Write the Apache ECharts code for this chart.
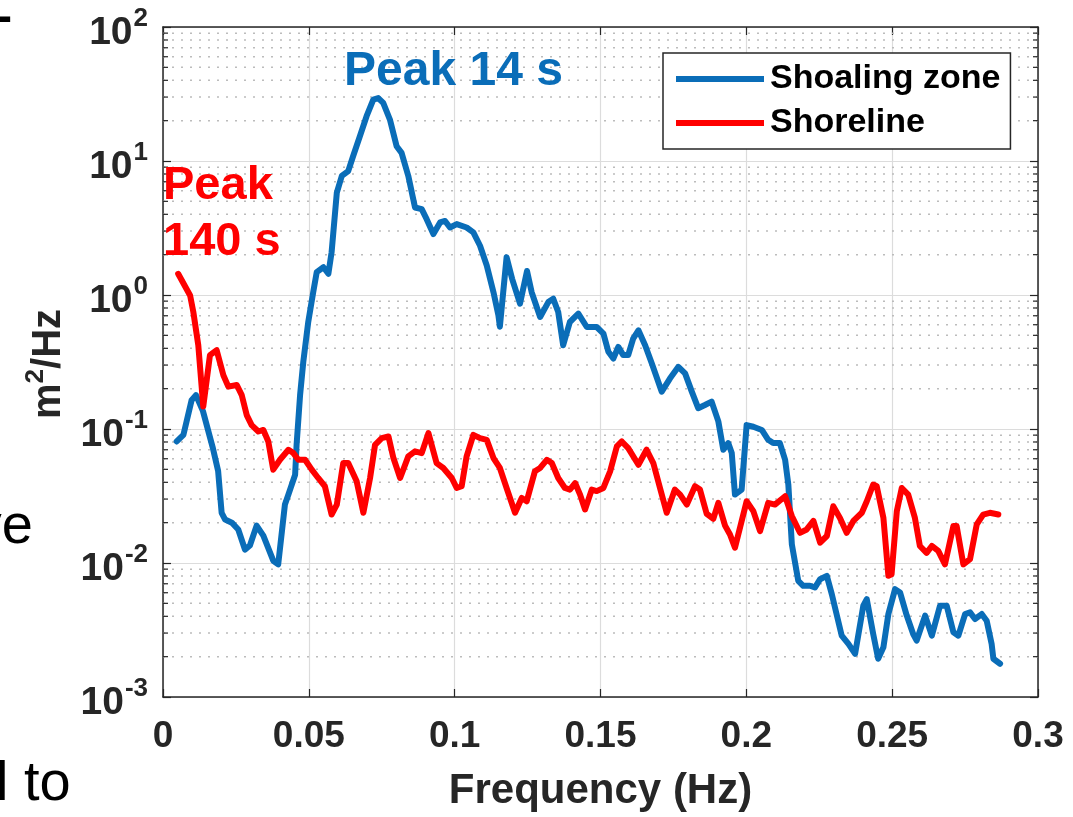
<!DOCTYPE html>
<html>
<head>
<meta charset="utf-8">
<script src="https://cdn.jsdelivr.net/npm/echarts/dist/echarts.min.js"></script>
<style>
html,body{margin:0;padding:0;background:#fff;}
#chart{width:1073px;height:817px;}
</style>
</head>
<body>
<div id="chart"></div>
<script>
// ---------------- data ----------------
const xTickValues = [0, 0.05, 0.1, 0.15, 0.2, 0.25, 0.3];
const yDecades = [0.001, 0.01, 0.1, 1, 10, 100];
const minorMultipliers = [2, 3, 4, 5, 6, 7, 8, 9];
const seriesNames = ['Shoaling zone', 'Shoreline'];

const shoalFreq = [0.0047,0.0070,0.0098,0.0113,0.0137,0.0171,0.0189,0.0201,0.0213,0.0236,0.0258,0.0281,0.0298,0.0321,0.0344,0.0378,0.0395,0.0418,0.0430,0.0453,0.0458,0.0470,0.0481,0.0498,0.0515,0.0527,0.0550,0.0567,0.0578,0.0596,0.0613,0.0635,0.0652,0.0675,0.0698,0.0721,0.0738,0.0755,0.0778,0.0801,0.0818,0.0841,0.0864,0.0887,0.0904,0.0927,0.0950,0.0967,0.0984,0.1007,0.1041,0.1064,0.1087,0.1110,0.1133,0.1150,0.1155,0.1178,0.1197,0.1224,0.1248,0.1264,0.1293,0.1321,0.1338,0.1355,0.1372,0.1395,0.1424,0.1453,0.1487,0.1510,0.1527,0.1544,0.1561,0.1578,0.1595,0.1612,0.1630,0.1653,0.1676,0.1710,0.1738,0.1767,0.1790,0.1813,0.1835,0.1858,0.1881,0.1904,0.1921,0.1938,0.1950,0.1961,0.1984,0.2001,0.2024,0.2053,0.2075,0.2092,0.2115,0.2133,0.2144,0.2156,0.2178,0.2195,0.2218,0.2235,0.2253,0.2276,0.2293,0.2327,0.2350,0.2373,0.2401,0.2413,0.2435,0.2452,0.2470,0.2487,0.2510,0.2527,0.2550,0.2572,0.2584,0.2613,0.2636,0.2664,0.2687,0.2710,0.2727,0.2750,0.2767,0.2784,0.2807,0.2824,0.2841,0.2847,0.2870];
const shoalPSD = [0.0807,0.0904,0.164,0.179,0.136,0.0720,0.0486,0.0237,0.0211,0.0200,0.0178,0.0126,0.0135,0.0190,0.0160,0.0104,0.00977,0.0273,0.0324,0.0456,0.0762,0.179,0.317,0.629,1.05,1.48,1.61,1.44,2.08,5.81,7.73,8.41,10.9,15.3,21.6,28.7,29.5,27.1,20.4,12.9,11.5,7.73,4.50,4.37,3.68,2.85,3.48,3.57,3.19,3.38,3.19,2.93,2.33,1.66,1.05,0.705,0.580,1.91,1.32,0.861,1.51,1.05,0.685,0.885,0.937,0.746,0.422,0.629,0.725,0.577,0.577,0.515,0.377,0.336,0.410,0.356,0.356,0.473,0.545,0.422,0.308,0.190,0.238,0.291,0.260,0.190,0.143,0.151,0.160,0.114,0.0700,0.0785,0.0661,0.0324,0.0353,0.107,0.104,0.0984,0.0830,0.0785,0.0785,0.0589,0.0385,0.0138,0.00736,0.00676,0.00676,0.00656,0.00757,0.00802,0.00586,0.00287,0.00249,0.00210,0.00480,0.00537,0.00295,0.00193,0.00235,0.00416,0.00638,0.00603,0.00405,0.00295,0.00264,0.00405,0.00287,0.00480,0.00480,0.00304,0.00287,0.00416,0.00428,0.00382,0.00416,0.00371,0.00249,0.00193,0.00177];

const shoreFreq = [0.0052,0.0093,0.0104,0.0121,0.0138,0.0161,0.0184,0.0207,0.0224,0.0253,0.0270,0.0287,0.0304,0.0327,0.0344,0.0361,0.0378,0.0401,0.0430,0.0447,0.0464,0.0487,0.0510,0.0532,0.0555,0.0578,0.0596,0.0618,0.0635,0.0664,0.0687,0.0710,0.0727,0.0750,0.0773,0.0790,0.0813,0.0841,0.0864,0.0887,0.0910,0.0938,0.0961,0.0990,0.1007,0.1024,0.1041,0.1064,0.1087,0.1110,0.1133,0.1155,0.1178,0.1207,0.1230,0.1247,0.1275,0.1293,0.1316,0.1333,0.1355,0.1378,0.1395,0.1413,0.1430,0.1447,0.1470,0.1487,0.1510,0.1533,0.1556,0.1573,0.1595,0.1630,0.1658,0.1681,0.1704,0.1727,0.1755,0.1773,0.1796,0.1824,0.1841,0.1864,0.1887,0.1904,0.1927,0.1944,0.1961,0.2001,0.2024,0.2047,0.2075,0.2098,0.2133,0.2156,0.2184,0.2207,0.2230,0.2253,0.2276,0.2298,0.2321,0.2344,0.2367,0.2396,0.2413,0.2435,0.2447,0.2470,0.2487,0.2498,0.2516,0.2533,0.2555,0.2578,0.2595,0.2618,0.2636,0.2658,0.2681,0.2710,0.2721,0.2744,0.2767,0.2790,0.2812,0.2835,0.2864];
const shorePSD = [1.44,0.991,0.746,0.422,0.147,0.356,0.387,0.252,0.207,0.213,0.179,0.127,0.107,0.0958,0.0984,0.0807,0.0497,0.0589,0.0700,0.0661,0.0589,0.0589,0.0497,0.0431,0.0374,0.0230,0.0273,0.0557,0.0557,0.0407,0.0237,0.0431,0.0762,0.0855,0.0880,0.0607,0.0431,0.0625,0.0681,0.0661,0.0931,0.0557,0.0512,0.0431,0.0363,0.0374,0.0625,0.0904,0.0855,0.0830,0.0607,0.0512,0.0363,0.0237,0.0306,0.0289,0.0483,0.0512,0.0589,0.0557,0.0431,0.0363,0.0353,0.0395,0.0324,0.0251,0.0353,0.0344,0.0363,0.0483,0.0741,0.0807,0.0720,0.0541,0.0700,0.0557,0.0363,0.0237,0.0353,0.0324,0.0273,0.0374,0.0353,0.0233,0.0214,0.0281,0.0190,0.0163,0.0130,0.0289,0.0244,0.0173,0.0281,0.0273,0.0315,0.0224,0.0168,0.0178,0.0206,0.0142,0.0159,0.0265,0.0217,0.0168,0.0206,0.0237,0.0289,0.0385,0.0374,0.0217,0.00802,0.00824,0.0244,0.0363,0.0324,0.0217,0.0134,0.0119,0.0134,0.0123,0.00977,0.0189,0.0189,0.00977,0.0107,0.0194,0.0230,0.0237,0.0230];

// --------------- helpers ---------------
const FONT = '"Liberation Sans", Arial, Helvetica, sans-serif';
const AXIS_COLOR = '#262626';
const BLUE = '#0a6db8';
const RED = '#ff0000';
const zip = (a, b) => a.map((v, i) => [v, b[i]]);
const minorValues = [];
yDecades.slice(0, -1).forEach(d => minorMultipliers.forEach(m => minorValues.push(+(d * m).toPrecision(3))));

const chart = echarts.init(document.getElementById('chart'), null, {renderer: 'canvas'});

const option = {
  backgroundColor: '#ffffff',
  animation: false,
  grid: {left: 163, top: 27, right: 35, bottom: 117, containLabel: false},
  legend: {
    orient: 'vertical',
    left: 663, top: 53,
    data: seriesNames,
    icon: 'rect',
    itemWidth: 88, itemHeight: 6, itemGap: 10,
    padding: [9, 10, 9, 13],
    backgroundColor: '#ffffff',
    borderColor: AXIS_COLOR, borderWidth: 1.5, borderRadius: 0,
    textStyle: {fontFamily: FONT, fontSize: 34, fontWeight: 'bold', color: '#000', padding: [0, 0, 0, 1]}
  },
  xAxis: [{
    type: 'value', min: 0, max: 0.3, interval: 0.05,
    axisLine: {show: true, onZero: false, lineStyle: {color: AXIS_COLOR, width: 1.5}},
    axisTick: {show: true, inside: true, length: 8, lineStyle: {color: AXIS_COLOR, width: 1.2}},
    axisLabel: {
      margin: 21, color: AXIS_COLOR, fontFamily: FONT, fontSize: 37, fontWeight: 'bold',
      formatter: v => String(parseFloat(v.toFixed(2)))
    },
    splitLine: {show: true, lineStyle: {color: '#dcdcdc', width: 1.2}},
    name: 'Frequency (Hz)', nameLocation: 'middle', nameGap: 73,
    nameTextStyle: {fontFamily: FONT, fontSize: 42, fontWeight: 'bold', color: AXIS_COLOR}
  }, {
    type: 'value', min: 0, max: 0.3, interval: 0.05, position: 'top',
    axisLine: {show: true, onZero: false, lineStyle: {color: AXIS_COLOR, width: 1.5}},
    axisTick: {show: true, inside: true, length: 8, lineStyle: {color: AXIS_COLOR, width: 1.2}},
    axisLabel: {show: false}, splitLine: {show: false}
  }],
  yAxis: [{
    type: 'log', logBase: 10, min: 0.001, max: 100, interval: 1,
    axisLine: {show: true, onZero: false, lineStyle: {color: AXIS_COLOR, width: 1.5}},
    axisTick: {show: true, inside: true, length: 8, lineStyle: {color: AXIS_COLOR, width: 1.2}},
    axisLabel: {
      margin: 15, color: AXIS_COLOR,
      formatter: v => '{b|10}{s|' + Math.round(Math.log10(v)) + '}',
      rich: {
        b: {fontFamily: FONT, fontSize: 39, fontWeight: 'bold', color: AXIS_COLOR, padding: [12, 0, 0, 0]},
        s: {fontFamily: FONT, fontSize: 26, fontWeight: 'bold', color: AXIS_COLOR, padding: [0, 0, 16, 1]}
      }
    },
    splitLine: {show: true, lineStyle: {color: '#dcdcdc', width: 1.2}}
  }, {
    type: 'log', logBase: 10, min: 0.001, max: 100, interval: 1, position: 'right',
    axisLine: {show: true, onZero: false, lineStyle: {color: AXIS_COLOR, width: 1.5}},
    axisTick: {show: true, inside: true, length: 8, lineStyle: {color: AXIS_COLOR, width: 1.2}},
    axisLabel: {show: false}, splitLine: {show: false}
  }],
  series: [{
    type: 'custom', name: 'minor', silent: true, z: 1,
    xAxisIndex: 0, yAxisIndex: 0,
    data: minorValues.map(v => [0, v]),
    renderItem: (params, api) => {
      const v = api.value(1);
      const a = api.coord([xTickValues[0], v]);
      const b = api.coord([xTickValues[xTickValues.length - 1], v]);
      return {type: 'group', children: [
        {type: 'line', shape: {x1: a[0], y1: a[1], x2: b[0], y2: b[1]}, style: {stroke: '#bcbcbc', lineWidth: 1.5, lineDash: [2, 7]}},
        {type: 'line', shape: {x1: a[0], y1: a[1], x2: a[0] + 5, y2: a[1]}, style: {stroke: AXIS_COLOR, lineWidth: 1.2}},
        {type: 'line', shape: {x1: b[0] - 5, y1: b[1], x2: b[0], y2: b[1]}, style: {stroke: AXIS_COLOR, lineWidth: 1.2}}
      ]};
    }
  }, {
    type: 'line', name: seriesNames[0], data: zip(shoalFreq, shoalPSD),
    showSymbol: false, symbol: 'none', z: 3,
    lineStyle: {color: BLUE, width: 6, join: 'round', cap: 'round'}, itemStyle: {color: BLUE}
  }, {
    type: 'line', name: seriesNames[1], data: zip(shoreFreq, shorePSD),
    showSymbol: false, symbol: 'none', z: 4,
    lineStyle: {color: RED, width: 6, join: 'round', cap: 'round'}, itemStyle: {color: RED}
  }],
  graphic: [
    {type: 'text', x: 344, y: 72, z: 10, style: {text: 'Peak 14 s', fill: BLUE, font: 'bold 48px ' + FONT, verticalAlign: 'middle', align: 'left'}},
    {type: 'text', x: 163, y: 186, z: 10, style: {text: 'Peak', fill: RED, font: 'bold 47px ' + FONT, verticalAlign: 'middle', align: 'left'}},
    {type: 'text', x: 163, y: 242, z: 10, style: {text: '140 s', fill: RED, font: 'bold 47px ' + FONT, verticalAlign: 'middle', align: 'left'}},
    {type: 'text', x: 44, y: 364, rotation: Math.PI / 2, z: 10, style: {
      text: '{m|m}{s|2}{m|/Hz}', align: 'center', verticalAlign: 'middle',
      rich: {
        m: {fontFamily: FONT, fontSize: 40, fontWeight: 'bold', fill: AXIS_COLOR, padding: [10, 0, 0, 0]},
        s: {fontFamily: FONT, fontSize: 26, fontWeight: 'bold', fill: AXIS_COLOR, padding: [0, 0, 16, 0]}
      }
    }},
    {type: 'text', x: 12, y: 19, z: 10, style: {text: '–', fill: '#000', font: 'bold 56px ' + FONT, align: 'right', verticalAlign: 'middle'}},
    {type: 'text', x: 33, y: 528, z: 10, style: {text: 've', fill: '#000', font: '56px ' + FONT, align: 'right', verticalAlign: 'middle'}},
    {type: 'text', x: -4, y: 785, z: 10, style: {text: 'l to', fill: '#000', font: '56px ' + FONT, align: 'left', verticalAlign: 'middle'}}
  ]
};
chart.setOption(option);
</script>
</body>
</html>
